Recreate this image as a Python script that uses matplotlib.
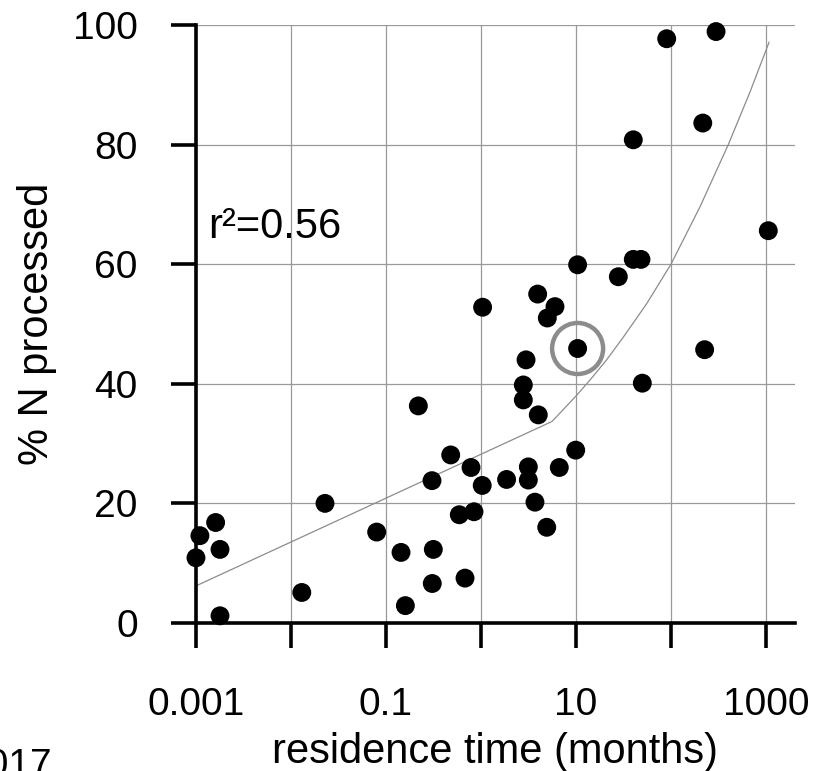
# -------------------------------
# % N processed vs residence time
# -------------------------------
import numpy as np
import matplotlib
matplotlib.use("Agg")
import matplotlib.pyplot as plt

plt.rcParams['font.family'] = ['Liberation Sans', 'DejaVu Sans']

# -------------------------------
# Data
# -------------------------------
residence_months = [0.001, 0.0011, 0.00161, 0.00179, 0.00179, 0.013, 0.0228, 0.0798,
                    0.144, 0.16, 0.219, 0.305, 0.315, 0.307, 0.48, 0.591, 0.679,
                    0.785, 0.844, 1.03, 1.04, 1.86, 2.79, 2.79, 2.98, 3.15, 3.15,
                    3.7, 3.95, 4.01, 4.92, 4.99, 6.01, 6.67, 9.93, 10.4, 10.4,
                    27.9, 40.1, 48.3, 49.9, 40.1, 90.1, 216, 226, 298, 1057]
pct_n_processed = [10.9, 14.6, 16.8, 12.3, 1.2, 5.1, 20.0, 15.2,
                   11.8, 2.9, 36.3, 23.8, 12.3, 6.6, 28.1, 18.1, 7.5,
                   26.0, 18.6, 23.0, 52.8, 24.0, 39.8, 37.3, 44.0, 26.1, 23.9,
                   20.2, 55.0, 34.8, 16.0, 51.0, 52.9, 26.0, 28.9, 59.9, 45.9,
                   57.9, 60.8, 60.8, 40.1, 80.8, 97.7, 83.6, 45.7, 98.9, 65.6]

# highlighted site
circled_x = [10.4]
circled_y = [45.9]

# fitted curve as drawn
fit_x = [0.001, 5.6, 10.2, 14, 21, 31.5, 55.5, 100, 202, 401, 679, 1076]
fit_y = [6.2, 33.7, 38.1, 40.6, 44.0, 47.8, 53.4, 60.0, 69.6, 80.0, 88.8, 97.1]

x_ticks = [0.001, 0.01, 0.1, 1, 10, 100, 1000]
x_tick_labels = ['0.001', '', '0.1', '', '10', '', '1000']
y_ticks = [0, 20, 40, 60, 80, 100]

# -------------------------------
# Figure
# -------------------------------
fig = plt.figure(figsize=(8.21, 7.71), dpi=100)
ax = fig.add_axes([0.2387, 0.1920, 0.7296, 0.7756])

ax.set_xscale('log')
ax.set_xlim(0.001, 2018)
ax.set_ylim(0, 100)

ax.grid(True, color='0.6', linewidth=0.9)
ax.set_axisbelow(True)

ax.plot(fit_x, fit_y, color='0.55', linewidth=0.9, zorder=2)
ax.scatter(residence_months, pct_n_processed, s=185, color='black',
           edgecolors='none', zorder=3, clip_on=False)
ax.scatter(circled_x, circled_y, s=1350, facecolors='none',
           edgecolors='0.55', linewidths=3.2, zorder=4)

ax.text(0.02, 0.644, 'r²=0.56', transform=ax.transAxes, fontsize=30,
        va='baseline', ha='left')

# -------------------------------
# Axes styling
# -------------------------------
for side in ['top', 'right']:
    ax.spines[side].set_visible(False)
for side in ['left', 'bottom']:
    ax.spines[side].set_linewidth(2.6)

ax.set_xticks(x_ticks)
ax.set_xticklabels(x_tick_labels)
ax.xaxis.set_minor_locator(matplotlib.ticker.NullLocator())
ax.set_yticks(y_ticks)
ax.tick_params(axis='both', which='major', direction='out', length=18,
               width=2.6, labelsize=28, pad=24)
ax.tick_params(axis='x', pad=28)

ax.set_xlabel('residence time (months)', fontsize=30)
ax.set_ylabel('% N processed', fontsize=30)
ax.xaxis.set_label_coords(0.5, -0.183)
ax.yaxis.set_label_coords(-0.232, 0.5)

# caption remnant, cut off at the left edge as in the source
fig.text(52 / 821, -0.0065, '2017', fontsize=28, ha='right', va='baseline')

fig.savefig('out.png', dpi=100)
